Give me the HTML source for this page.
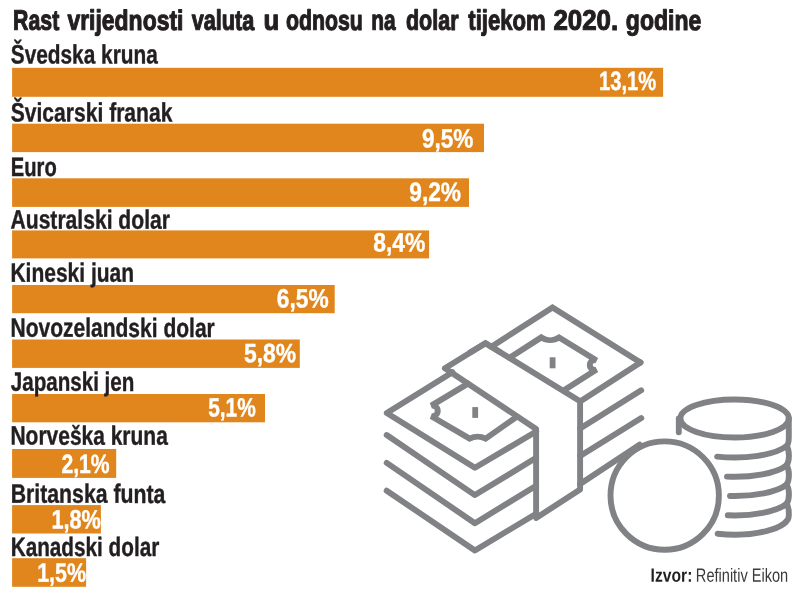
<!DOCTYPE html>
<html lang="hr"><head><meta charset="utf-8"><title>Rast vrijednosti valuta</title>
<style>
html,body{margin:0;padding:0;background:#fff;}
body{width:800px;height:595px;overflow:hidden;}
svg{display:block;}
text{font-family:"Liberation Sans",Arial,Helvetica,sans-serif;text-rendering:geometricPrecision;}
.t{font-weight:bold;font-size:28.3px;fill:#231F20;stroke:#231F20;stroke-width:1.1px;stroke-linejoin:round;}
.l{font-weight:bold;font-size:26.6px;fill:#231F20;stroke:#231F20;stroke-width:0.4px;stroke-linejoin:round;}
.v{font-weight:bold;font-size:26.5px;fill:#fff;stroke:#fff;stroke-width:0.4px;stroke-linejoin:round;}
.s{font-size:19.1px;fill:#231F20;}
</style></head><body>
<svg width="800" height="595" viewBox="0 0 800 595">
<rect width="800" height="595" fill="#fff"/>
<text class="t" transform="translate(13.04,29.85) scale(0.7534,1) rotate(0.03)">Rast</text>
<text class="t" transform="translate(67.42,29.85) scale(0.8106,1) rotate(0.03)">vrijednosti</text>
<text class="t" transform="translate(191.67,29.85) scale(0.7652,1) rotate(0.03)">valuta</text>
<text class="t" transform="translate(263.46,29.85) scale(0.9058,1) rotate(0.03)">u</text>
<text class="t" transform="translate(285.92,29.85) scale(0.7528,1) rotate(0.03)">odnosu</text>
<text class="t" transform="translate(371.17,29.85) scale(0.7381,1) rotate(0.03)">na</text>
<text class="t" transform="translate(405.91,29.85) scale(0.7607,1) rotate(0.03)">dolar</text>
<text class="t" transform="translate(468.27,29.85) scale(0.7827,1) rotate(0.03)">tijekom</text>
<text class="t" transform="translate(553.43,29.85) scale(0.9141,1) rotate(0.03)">2020.</text>
<text class="t" transform="translate(625.86,29.85) scale(0.8131,1) rotate(0.03)">godine</text>
<rect x="12.1" y="67.8" width="651.0" height="29.0" fill="#E0861C"/>
<text id="l0" class="l" transform="translate(10.75,63.5) scale(0.7832,1) rotate(0.03)">Švedska kruna</text>
<text id="v0" class="v" transform="translate(598.98,90.0) scale(0.7613,1) rotate(0.03)">13,1%</text>
<rect x="12.1" y="123.7" width="471.9" height="28.4" fill="#E0861C"/>
<text id="l1" class="l" transform="translate(10.75,121.4) scale(0.7921,1) rotate(0.03)">Švicarski franak</text>
<text id="v1" class="v" transform="translate(421.93,147.4) scale(0.8520,1) rotate(0.03)">9,5%</text>
<rect x="12.1" y="178.3" width="456.9" height="28.6" fill="#E0861C"/>
<text id="l2" class="l" transform="translate(10.81,175.9) scale(0.7582,1) rotate(0.03)">Euro</text>
<text id="v2" class="v" transform="translate(409.23,200.9) scale(0.8588,1) rotate(0.03)">9,2%</text>
<rect x="12.1" y="230.4" width="417.0" height="28.0" fill="#E0861C"/>
<text id="l3" class="l" transform="translate(10.52,228.6) scale(0.7931,1) rotate(0.03)">Australski dolar</text>
<text id="v3" class="v" transform="translate(373.31,251.6) scale(0.8625,1) rotate(0.03)">8,4%</text>
<rect x="12.1" y="285.0" width="322.6" height="28.2" fill="#E0861C"/>
<text id="l4" class="l" transform="translate(10.46,281.8) scale(0.7893,1) rotate(0.03)">Kineski juan</text>
<text id="v4" class="v" transform="translate(276.83,307.5) scale(0.8588,1) rotate(0.03)">6,5%</text>
<rect x="12.1" y="339.5" width="287.7" height="28.4" fill="#E0861C"/>
<text id="l5" class="l" transform="translate(10.46,336.8) scale(0.7899,1) rotate(0.03)">Novozelandski dolar</text>
<text id="v5" class="v" transform="translate(243.91,362.3) scale(0.8642,1) rotate(0.03)">5,8%</text>
<rect x="12.1" y="394.0" width="252.9" height="28.3" fill="#E0861C"/>
<text id="l6" class="l" transform="translate(10.79,390.8) scale(0.7741,1) rotate(0.03)">Japanski jen</text>
<text id="v6" class="v" transform="translate(208.17,416.6) scale(0.7878,1) rotate(0.03)">5,1%</text>
<rect x="12.1" y="449.0" width="104.1" height="28.9" fill="#E0861C"/>
<text id="l7" class="l" transform="translate(10.46,444.6) scale(0.7885,1) rotate(0.03)">Norveška kruna</text>
<text id="v7" class="v" transform="translate(61.38,473.0) scale(0.7993,1) rotate(0.03)">2,1%</text>
<rect x="12.1" y="505.1" width="88.8" height="28.4" fill="#E0861C"/>
<text id="l8" class="l" transform="translate(10.74,502.8) scale(0.7985,1) rotate(0.03)">Britanska funta</text>
<text id="v8" class="v" transform="translate(51.39,528.4) scale(0.8193,1) rotate(0.03)">1,8%</text>
<rect x="12.1" y="558.2" width="74.0" height="28.6" fill="#E0861C"/>
<text id="l9" class="l" transform="translate(10.67,555.9) scale(0.7794,1) rotate(0.03)">Kanadski dolar</text>
<text id="v9" class="v" transform="translate(37.21,581.8) scale(0.8072,1) rotate(0.03)">1,5%</text>
<text id="s0" class="s" style="font-weight:bold" transform="translate(650.62,581.7) scale(0.8208,1) rotate(0.03)">Izvor:</text>
<text id="s1" class="s" style="fill:#3a3a3a" transform="translate(695.86,581.7) scale(0.7633,1) rotate(0.03)">Refinitiv Eikon</text>
<g fill="none" stroke="#808285" stroke-width="5.9" stroke-linecap="round" stroke-linejoin="round">
<!-- band -->
<path d="M485.5 343.2 L580.1 401.2 L580.1 489.6 L536.1 518 L536.1 429 L444.9 368.2 Z"/>
<path d="M470 352.6 L485.5 343.2 L500 352" stroke-linejoin="miter"/>
<!-- top bill, right part outer -->
<path d="M491.4 346.7 L552.5 307.6 L640.5 362.4" stroke-linejoin="miter"/>
<path d="M640.5 362.4 L580.5 401.2"/>
<!-- top bill, right part inner -->
<path d="M509.6 357.7 L541.3 337.4 A15.8 15.8 0 0 0 559.1 337.4 L596.6 360.4 A4.92 4.92 0 1 0 596.6 369.5 L563.6 390.6" stroke-linejoin="miter" stroke-miterlimit="2.2"/>
<!-- top bill, left part outer -->
<path d="M452.5 372.2 L386.8 413.1 L474.9 467.8 L536.2 431.5"/>
<!-- top bill, left part inner -->
<path d="M468 383.6 L431.3 405.6 A5.4 5.4 0 1 1 431.3 416.2 L469.6 438.6 A18 18 0 0 1 485.6 438.6 L516 417.3" stroke-linejoin="miter"/>
<!-- left layers -->
<path d="M386.7 435 L474.9 495.1 L536.1 457.8"/>
<path d="M386.7 462.9 L474.9 523.2 L536.1 485.7"/>
<path d="M386.7 490.7 L474.9 550.5 L536.1 513.7"/>
<!-- right layers -->
<path d="M580.1 428.6 L641.2 390.3"/>
<path d="M580.1 455.9 L641.3 418"/>
<path d="M580.1 484 L639.5 444.7"/>
<!-- big coin -->
<circle cx="664.7" cy="495.6" r="54.2" fill="#fff"/>
<!-- coin stack -->
<ellipse cx="734.6" cy="418.5" rx="54.2" ry="19.0"/>
<path d="M678.8 418.5 L678.8 432.2"/>
<path d="M786.6 446.0 A56.6 19.0 0 0 1 717.1 456.6"/>
<path d="M788.8 418.5 L788.8 437.0 C788.8 442.0 788.5 444.5 786.6 446.0"/>
<path d="M786.6 465.3 A56.6 19.0 0 0 1 727.0 476.6"/>
<path d="M786.6 446.0 C789.7 450.5 789.7 460.8 786.6 465.3"/>
<path d="M786.6 484.6 A56.6 19.0 0 0 1 730.0 496.0"/>
<path d="M786.6 465.3 C789.7 469.8 789.7 480.1 786.6 484.6"/>
<path d="M786.6 503.9 A56.6 19.0 0 0 1 727.8 515.3"/>
<path d="M786.6 484.6 C789.7 489.1 789.7 499.4 786.6 503.9"/>
<path d="M786.6 503.9 C789.4 507.4 788.8 511.7 788.8 515.7 A54.2 19.0 0 0 1 717.6 533.7"/>
</g>
<g fill="#808285">
<rect x="549.7" y="357.3" width="5.8" height="11"/>
<rect x="472.3" y="407.1" width="5.8" height="10.8"/>
</g>
</svg>
</body></html>
